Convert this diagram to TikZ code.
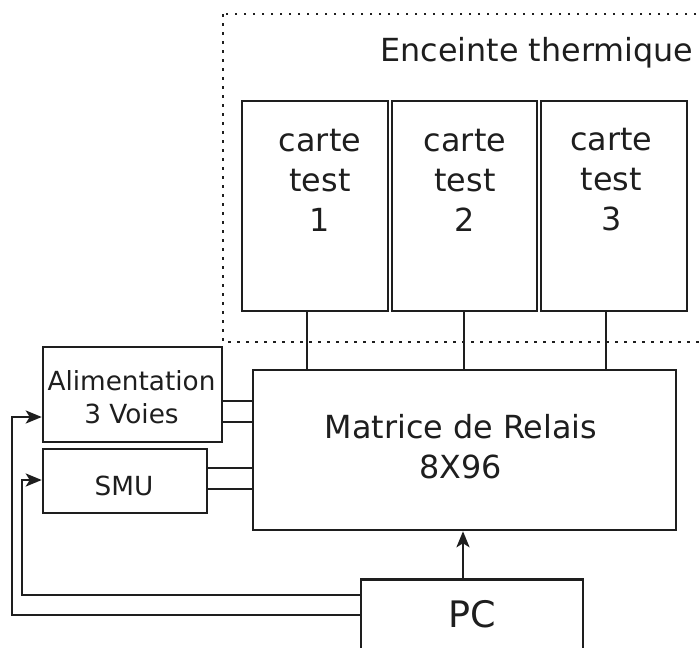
\documentclass[tikz,border=0pt]{standalone}
\usepackage{fontspec}
\setmainfont{DejaVu Sans}
\usetikzlibrary{arrows.meta,calc}
\definecolor{ink}{HTML}{1E1E1E}
\begin{document}
\begin{tikzpicture}[x=1pt,y=-1pt,
  box/.style={draw=ink, line width=2.5pt, rectangle, inner sep=0pt},
  wire/.style={draw=ink, line width=2.5pt},
  arr/.style={wire, -{Stealth[length=16pt,width=13pt,inset=4pt]}},
  lbl/.style={text=ink, align=center, inner sep=0pt},
  big/.style={font=\fontsize{31.8}{40}\selectfont},
  mid/.style={font=\fontsize{26.3}{33}\selectfont},
  dotted frame/.style={draw=ink, line width=2.5pt, dash pattern=on 2.5pt off 6.5pt},
]
\useasboundingbox (0,0) rectangle (699,648);
\begin{scope}
\clip (0,0) rectangle (699,648);
% thermal enclosure
\draw[dotted frame] (223,14) rectangle (730,342);
\node[lbl, big, anchor=base] (encl) at (537,61) {Enceinte thermique};

% test cards
\node[box, minimum width=146pt, minimum height=210pt] (c1) at (315,206) {};
\node[box, minimum width=145pt, minimum height=210pt] (c2) at (464.5,206) {};
\node[box, minimum width=146pt, minimum height=210pt] (c3) at (614,206) {};
\node[lbl, big] (t1) at ($(c1.center)+(5,-26)$) {carte\\test\\1};
\node[lbl, big] (t2) at ($(c2.center)+(0.5,-26)$) {carte\\test\\2};
\node[lbl, big] (t3) at ($(c3.center)+(-2.5,-26)$) {carte\\test\\3};

% relay matrix
\node[box, minimum width=423pt, minimum height=160pt] (mat) at (464.5,450) {};
\node[lbl, big] (tm) at ($(mat.center)+(-3.5,-3)$) {Matrice de Relais\\8X96};

% power supply and SMU
\node[box, minimum width=179pt, minimum height=95pt] (alim) at (132.5,394.5) {};
\node[lbl, mid] (ta) at ($(alim.center)+(-1,3)$) {Alimentation\\3 Voies};
\node[box, minimum width=164pt, minimum height=64pt] (smu) at (125,481) {};
\node[lbl, mid] (ts) at ($(smu.center)+(-1,5)$) {SMU};

% PC
\node[box, anchor=north, minimum width=222pt, text height=48pt, text depth=54pt,
      font=\fontsize{36.5}{42}\selectfont, text=ink] (pc) at (472,578) {PC};

% card to matrix links
\draw[wire] ($(c1.south)+(-8,0)$) -- ($(c1.south |- mat.north)+(-8,0)$);
\draw[wire] ($(c2.south)+(-0.5,0)$) -- ($(c2.south |- mat.north)+(-0.5,0)$);
\draw[wire] ($(c3.south)+(-8,0)$) -- ($(c3.south |- mat.north)+(-8,0)$);

% supply / SMU to matrix
\draw[wire] ($(alim.north east)+(0,55)$) -- ($(alim.north east -| mat.west)+(0,55)$);
\draw[wire] ($(alim.north east)+(0,76)$) -- ($(alim.north east -| mat.west)+(0,76)$);
\draw[wire] ($(smu.north east)+(0,20)$) -- ($(smu.north east -| mat.west)+(0,20)$);
\draw[wire] ($(smu.north east)+(0,41)$) -- ($(smu.north east -| mat.west)+(0,41)$);

% PC control
\draw[arr] ($(pc.north)+(-9,0)$) -- ($(pc.north |- mat.south)+(-9,0)$);
\draw[arr] ($(pc.north west)+(0,37)$) -| ($(alim.west)+(-30,22.5)$) -- ($(alim.west)+(0,22.5)$);
\draw[arr] ($(pc.north west)+(0,17)$) -| ($(smu.west)+(-20,-1)$) -- ($(smu.west)+(0,-1)$);
\end{scope}
\end{tikzpicture}
\end{document}
